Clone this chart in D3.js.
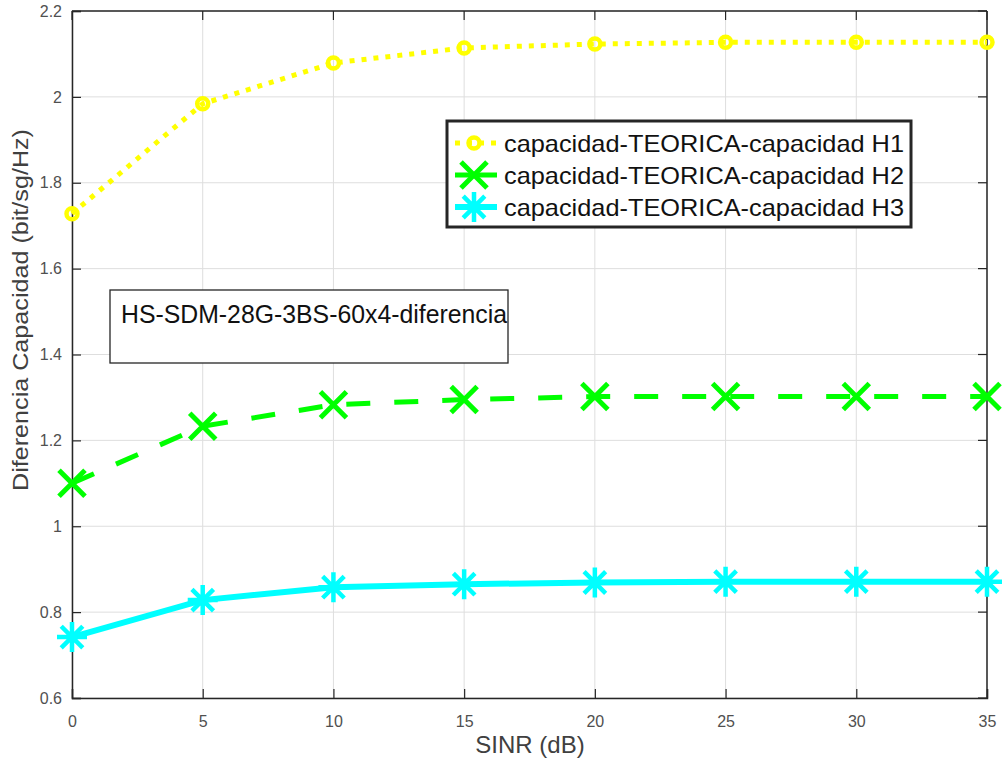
<!DOCTYPE html>
<html><head><meta charset="utf-8">
<script src="https://cdn.jsdelivr.net/npm/d3@7"></script>
<style>body{margin:0;background:#fff;} svg{display:block;font-family:"Liberation Sans",Arial,sans-serif;}</style>
</head><body><svg id="c" width="1007" height="760"></svg>
<script>
const sinr = [0,5,10,15,20,25,30,35];
const h1 = [1.728,1.984,2.079,2.114,2.123,2.127,2.127,2.127];
const h2 = [1.100,1.233,1.283,1.295,1.302,1.302,1.302,1.302];
const h3 = [0.742,0.828,0.858,0.865,0.869,0.871,0.871,0.871];
const xTicks = [0,5,10,15,20,25,30,35];
const yTicks = [0.6,0.8,1,1.2,1.4,1.6,1.8,2,2.2];
const seriesNames = ["capacidad-TEORICA-capacidad H1","capacidad-TEORICA-capacidad H2","capacidad-TEORICA-capacidad H3"];
const annotation = "HS-SDM-28G-3BS-60x4-diferencia";

const svg = d3.select("#c");
const L=72, R=987, T=11, B=698;
const x = d3.scaleLinear().domain([0,35]).range([L,R]);
const y = d3.scaleLinear().domain([0.6,2.2]).range([B,T]);

// grid
svg.append("g").selectAll("line").data(xTicks).join("line")
  .attr("x1",d=>x(d)).attr("x2",d=>x(d)).attr("y1",T).attr("y2",B)
  .attr("stroke","#dedede").attr("stroke-width",1);
svg.append("g").selectAll("line").data(yTicks).join("line")
  .attr("y1",d=>y(d)).attr("y2",d=>y(d)).attr("x1",L).attr("x2",R)
  .attr("stroke","#dedede").attr("stroke-width",1);

// axes
const xa = svg.append("g").attr("transform",`translate(0,${B})`)
  .call(d3.axisBottom(x).tickValues(xTicks).tickSize(-9).tickPadding(18).tickFormat(d3.format("d")));
const ya = svg.append("g").attr("transform",`translate(${L},0)`)
  .call(d3.axisLeft(y).tickValues(yTicks).tickSize(-9).tickPadding(10).tickFormat(d=>String(+d.toFixed(1))));
[xa,ya].forEach(a=>{
  a.select(".domain").attr("stroke","#262626").attr("stroke-width",1.5);
  a.selectAll(".tick line").attr("stroke","#262626").attr("stroke-width",1.2);
  a.selectAll("text").attr("fill","#505050").attr("font-size",16).attr("font-family","Liberation Sans, Arial, sans-serif");
});
// box top/right
svg.append("line").attr("x1",L).attr("x2",R).attr("y1",T).attr("y2",T).attr("stroke","#262626").attr("stroke-width",1.5);
svg.append("line").attr("x1",R).attr("x2",R).attr("y1",T).attr("y2",B).attr("stroke","#262626").attr("stroke-width",1.5);
svg.append("g").selectAll("line").data(xTicks).join("line")
  .attr("x1",d=>x(d)).attr("x2",d=>x(d)).attr("y1",T).attr("y2",T+9).attr("stroke","#262626").attr("stroke-width",1.2);
svg.append("g").selectAll("line").data(yTicks).join("line")
  .attr("y1",d=>y(d)).attr("y2",d=>y(d)).attr("x1",R).attr("x2",R-9).attr("stroke","#262626").attr("stroke-width",1.2);

// labels
svg.append("text").attr("x",530).attr("y",753).attr("text-anchor","middle")
  .attr("font-size",24).attr("fill","#404040").text("SINR (dB)");
svg.append("text").attr("transform",`translate(28,310) rotate(-90)`).attr("text-anchor","middle")
  .attr("font-size",22).attr("fill","#404040")
  .attr("textLength",362).attr("lengthAdjust","spacingAndGlyphs")
  .text("Diferencia Capacidad (bit/sg/Hz)");

const line = d3.line().x((d,i)=>x(sinr[i])).y(d=>y(d));
const YEL="#ffff00", GRN="#00ff00", CYN="#00ffff";

function drawMarker(g, type, cx, cy, color){
  if(type==="o"){
    g.append("circle").attr("cx",cx).attr("cy",cy).attr("r",5.5).attr("fill","none").attr("stroke",color).attr("stroke-width",4.5);
  } else if(type==="x"){
    const r=13;
    g.append("path").attr("d",`M${cx-r},${cy-r}L${cx+r},${cy+r}M${cx-r},${cy+r}L${cx+r},${cy-r}`)
      .attr("stroke",color).attr("stroke-width",5).attr("fill","none");
  } else {
    const r=15, d=r*0.72;
    g.append("path").attr("d",`M${cx-r},${cy}L${cx+r},${cy}M${cx},${cy-r}L${cx},${cy+r}M${cx-d},${cy-d}L${cx+d},${cy+d}M${cx-d},${cy+d}L${cx+d},${cy-d}`)
      .attr("stroke",color).attr("stroke-width",4.5).attr("fill","none");
  }
}

const series = [
  {v:h1,c:YEL,dash:"5,7",w:5,m:"o",ld:"5,7"},
  {v:h2,c:GRN,dash:"24,24",w:5,m:"x",ld:null},
  {v:h3,c:CYN,dash:null,w:6,m:"*",ld:null}
];
series.forEach(se=>{
  svg.append("path").datum(se.v).attr("d",line).attr("fill","none").attr("stroke",se.c)
    .attr("stroke-width",se.w).attr("stroke-dasharray",se.dash).attr("stroke-linecap","butt");
  const g=svg.append("g");
  se.v.forEach((v,i)=>drawMarker(g,se.m,x(sinr[i]),y(v),se.c));
});

// annotation box
svg.append("rect").attr("x",110).attr("y",290).attr("width",398).attr("height",73)
  .attr("fill","#fff").attr("stroke","#262626").attr("stroke-width",1.3);
svg.append("text").attr("x",121).attr("y",323).attr("font-size",25).attr("fill","#111")
  .attr("textLength",386).attr("lengthAdjust","spacingAndGlyphs").text(annotation);

// legend
const lg = svg.append("g");
lg.append("rect").attr("x",447).attr("y",121).attr("width",464).attr("height",106)
  .attr("fill","#fff").attr("stroke","#262626").attr("stroke-width",3);
seriesNames.forEach((n,i)=>{
  const base = 152 + i*32;
  const cy = base - 9;
  const se = series[i];
  lg.append("line").attr("x1",455).attr("x2",497).attr("y1",cy).attr("y2",cy).attr("stroke",se.c)
    .attr("stroke-width",se.w).attr("stroke-dasharray",se.ld).attr("stroke-linecap","butt");
  drawMarker(lg,se.m,474,cy,se.c);
  lg.append("text").attr("x",504).attr("y",base).attr("font-size",24).attr("fill","#111")
    .attr("textLength",400).attr("lengthAdjust","spacingAndGlyphs").text(n);
});
</script></body></html>
